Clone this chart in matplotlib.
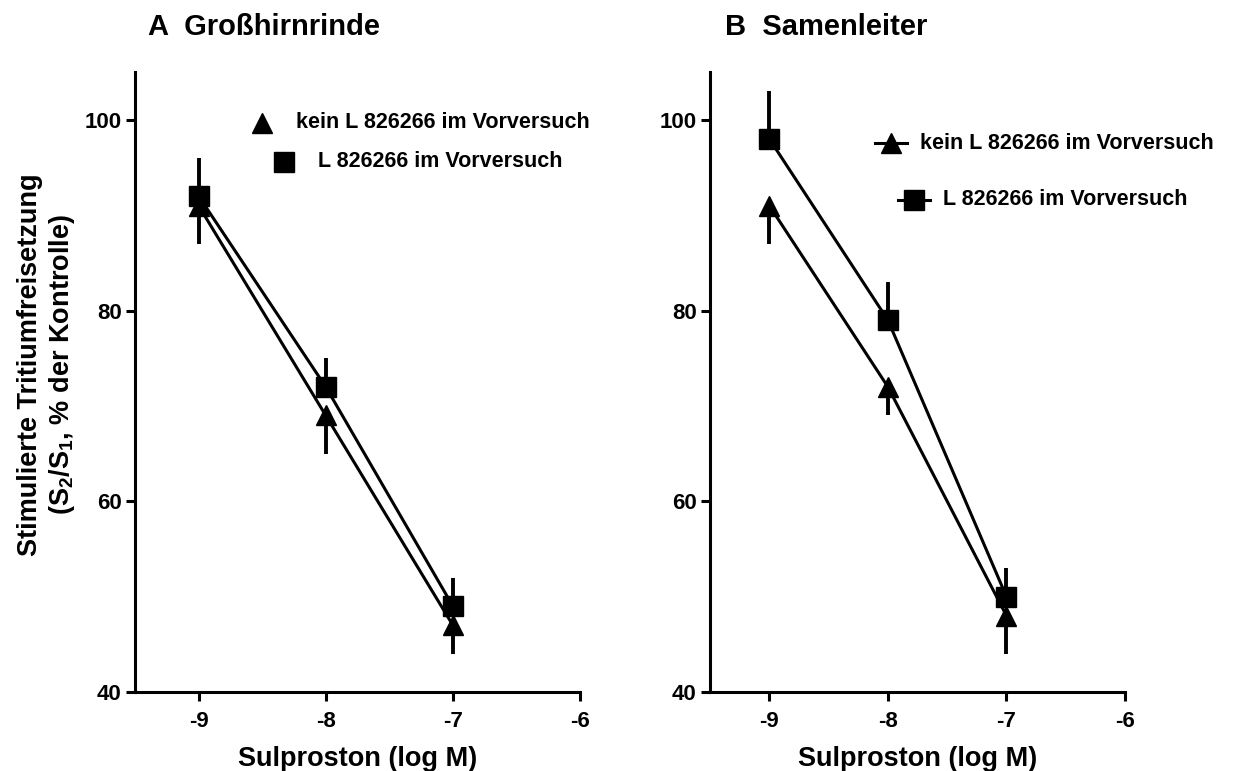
import matplotlib
matplotlib.use('Agg')
import matplotlib.pyplot as plt

plt.rcParams['font.family'] = ['Liberation Sans', 'DejaVu Sans']
plt.rcParams['font.weight'] = 'bold'
plt.rcParams['axes.unicode_minus'] = False
plt.rcParams['mathtext.fontset'] = 'custom'
plt.rcParams['mathtext.bf'] = 'Liberation Sans:bold'
plt.rcParams['mathtext.rm'] = 'Liberation Sans:bold'

# Sulproston concentrations (log M)
conc = [-9, -8, -7]

# A: Grosshirnrinde
a_kein = [91, 69, 47]
a_kein_err = [4, 4, 3]
a_l826 = [92, 72, 49]
a_l826_err = [4, 3, 3]

# B: Samenleiter
b_kein = [91, 72, 48]
b_kein_err = [4, 3, 4]
b_l826 = [98, 79, 50]
b_l826_err = [5, 4, 3]

xticks = [-9, -8, -7, -6]
yticks = [40, 60, 80, 100]

label_kein = 'kein L 826266 im Vorversuch'
label_l826 = 'L 826266 im Vorversuch'

LEG_FS = 15.5


def style_axes(ax):
    ax.set_xlim(-9.5, -6)
    ax.set_ylim(40, 105)
    ax.set_xticks(xticks)
    ax.set_yticks(yticks)
    for side in ('top', 'right'):
        ax.spines[side].set_visible(False)
    for side in ('left', 'bottom'):
        ax.spines[side].set_linewidth(2.2)
    ax.tick_params(width=2.2, length=6.5, labelsize=16, pad=3)
    ax.tick_params(axis='x', pad=7)
    for lab in ax.get_xticklabels() + ax.get_yticklabels():
        lab.set_fontweight('bold')
    ax.set_xlabel('Sulproston (log M)', fontsize=19.5, fontweight='bold', labelpad=10)


def draw_series(ax, y, err, marker, ms, up):
    lower = [0] * len(err) if up else err
    upper = err if up else [0] * len(err)
    ax.errorbar(conc, y, yerr=[lower, upper], fmt='none', ecolor='black',
                elinewidth=2.8, capsize=0, zorder=2)
    ax.plot(conc, y, color='black', lw=2.2, marker=marker, ms=ms,
            mfc='black', mec='black', zorder=3, clip_on=False)


fig = plt.figure(figsize=(12.5, 7.71), dpi=100)
ax_a = fig.add_axes([0.108, 0.1025, 0.356, 0.804])
ax_b = fig.add_axes([0.568, 0.1025, 0.332, 0.804])

draw_series(ax_a, a_kein, a_kein_err, '^', 14, up=False)
draw_series(ax_a, a_l826, a_l826_err, 's', 14, up=True)
draw_series(ax_b, b_kein, b_kein_err, '^', 14, up=False)
draw_series(ax_b, b_l826, b_l826_err, 's', 14, up=True)

style_axes(ax_a)
style_axes(ax_b)

# legend A: markers only
ax_a.plot([0.285], [0.918], marker='^', ms=14, color='black', ls='none',
          transform=ax_a.transAxes, clip_on=False)
ax_a.text(0.362, 0.918, label_kein, transform=ax_a.transAxes, fontsize=LEG_FS,
          fontweight='bold', va='center', ha='left')
ax_a.plot([0.335], [0.855], marker='s', ms=14, color='black', ls='none',
          transform=ax_a.transAxes, clip_on=False)
ax_a.text(0.411, 0.855, label_l826, transform=ax_a.transAxes, fontsize=LEG_FS,
          fontweight='bold', va='center', ha='left')

# legend B: markers on short line segments
ax_b.plot([0.398, 0.475], [0.885, 0.885], color='black', lw=2.2,
          transform=ax_b.transAxes, clip_on=False)
ax_b.plot([0.436], [0.885], marker='^', ms=14, color='black',
          transform=ax_b.transAxes, clip_on=False)
ax_b.text(0.506, 0.885, label_kein, transform=ax_b.transAxes, fontsize=LEG_FS,
          fontweight='bold', va='center', ha='left')
ax_b.plot([0.453, 0.530], [0.794, 0.794], color='black', lw=2.2,
          transform=ax_b.transAxes, clip_on=False)
ax_b.plot([0.492], [0.794], marker='s', ms=14, color='black',
          transform=ax_b.transAxes, clip_on=False)
ax_b.text(0.562, 0.794, label_l826, transform=ax_b.transAxes, fontsize=LEG_FS,
          fontweight='bold', va='center', ha='left')

fig.text(0.118, 0.965, 'A  Großhirnrinde', fontsize=21, fontweight='bold',
         ha='left', va='center')
fig.text(0.580, 0.965, 'B  Samenleiter', fontsize=21, fontweight='bold',
         ha='left', va='center')

fig.text(0.024, 0.527, 'Stimulierte Tritiumfreisetzung', rotation=90,
         fontsize=19.5, fontweight='bold', ha='center', va='center')
fig.text(0.050, 0.527, r'(S$_\mathbf{2}$/S$_\mathbf{1}$, % der Kontrolle)', rotation=90,
         fontsize=19.5, fontweight='bold', ha='center', va='center')

fig.savefig('out.png', dpi=100)
